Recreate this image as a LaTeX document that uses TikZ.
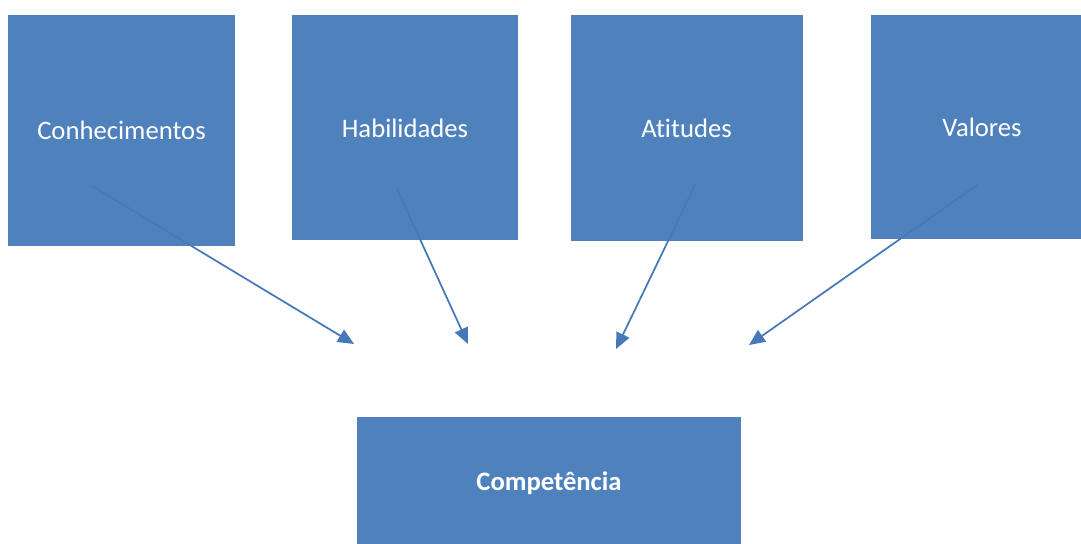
\documentclass[tikz,border=0pt]{standalone}
\usepackage{fontspec}
\setmainfont{Carlito}[Ligatures=NoCommon]
\usetikzlibrary{arrows.meta}
\definecolor{boxblue}{HTML}{4F81BD}
\definecolor{arrowblue}{HTML}{4679B8}
\begin{document}
\begin{tikzpicture}[x=0.75pt,y=-0.75pt,
  box/.style={draw=none,fill=boxblue,inner sep=0pt},
  lbl/.style={text=white,font=\fontsize{20}{24}\selectfont,inner sep=0pt},
  conn/.style={draw=arrowblue,line width=1.3pt,-{Triangle[length=12pt,width=10.5pt]}}]
\useasboundingbox (0,0) rectangle (1081,543);
\fill[white] (0,0) rectangle (1081,543);
\node[box,minimum width=227*0.75pt,minimum height=231*0.75pt] (con) at (121.5,130.5) {};
\node[box,minimum width=226*0.75pt,minimum height=225*0.75pt] (hab) at (405,127.5) {};
\node[box,minimum width=232*0.75pt,minimum height=226*0.75pt] (ati) at (687,128) {};
\node[box,minimum width=210*0.75pt,minimum height=224*0.75pt] (val) at (976,127) {};
\node[box,minimum width=384*0.75pt,minimum height=127*0.75pt] (comp) at (549,480.5) {};
\node[lbl] (tcon) at (121.5,130) {Conhecimentos};
\node[lbl] (thab) at (405,128) {Habilidades};
\node[lbl] (tati) at (686.5,128) {Atitudes};
\node[lbl] (tval) at (982,127) {Valores};
\node[lbl,font=\fontsize{20}{24}\selectfont\bfseries] (tcomp) at (549,483) {Competência};
\coordinate (s1) at (92,186);
\coordinate (e1) at (354,344);
\coordinate (s2) at (397,189);
\coordinate (e2) at (468,344);
\coordinate (s3) at (696,183);
\coordinate (e3) at (616,349);
\coordinate (s4) at (977,185);
\coordinate (e4) at (749,345);
\draw[conn] (s1) -- (e1);
\draw[conn] (s2) -- (e2);
\draw[conn] (s3) -- (e3);
\draw[conn] (s4) -- (e4);
\end{tikzpicture}
\end{document}
